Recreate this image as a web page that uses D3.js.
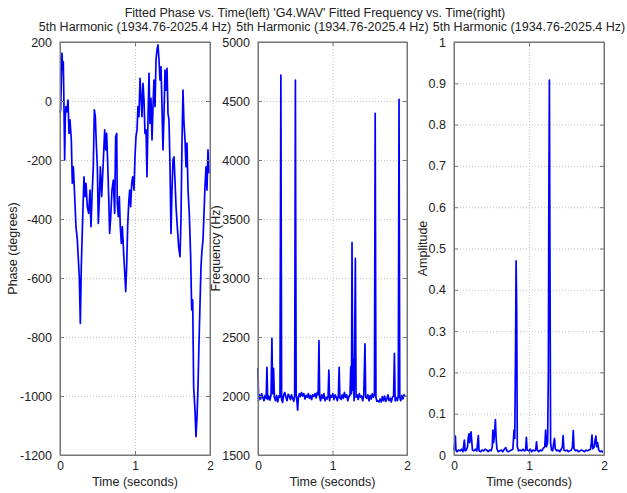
<!DOCTYPE html>
<html>
<head>
<meta charset="utf-8">
<script src="https://cdn.jsdelivr.net/npm/d3@7"></script>
<style>
  body { margin: 0; background: #fff; }
  svg { display: block; }
  text { font-family: "Liberation Sans", Arial, sans-serif; fill: #222; }
  .grid line { stroke: #c4c4c4; stroke-dasharray: 1,2; }
  .grid path { display: none; }
  .axis path { stroke: #777; }
  .axis line { stroke: #777; }
  .trace { fill: none; stroke: #0000ff; stroke-width: 1.7; stroke-linejoin: round; }
</style>
</head>
<body>
<script>
// phase (degrees) vs time (s)
let phaseTime = [0, .009, .018, .027, .036, .044, .053, .062, .071, .080,
  .093, .107, .120, .133, .151, .164, .178, .196, .213, .231,
  .258, .271, .284, .302, .320, .333, .347, .364, .382, .400,
  .413, .427, .444, .458, .471, .484, .498, .511, .524, .538,
  .556, .578, .596, .609, .622, .636, .649, .662, .676, .693,
  .711, .729, .742, .756, .764, .778, .791, .804, .818, .831,
  .849, .867, .876, .889, .902, .916, .929, .942, .956, .969,
  .987, 1.000, 1.013, 1.027, 1.040, 1.053, 1.067, 1.080, 1.093, 1.107,
  1.120, 1.133, 1.147, 1.160, 1.173, 1.187, 1.200, 1.213, 1.227, 1.240,
  1.253, 1.267, 1.280, 1.293, 1.307, 1.320, 1.333, 1.347, 1.360, 1.373,
  1.387, 1.400, 1.413, 1.427, 1.440, 1.453, 1.467, 1.480, 1.493, 1.507,
  1.520, 1.533, 1.547, 1.564, 1.582, 1.600, 1.613, 1.627, 1.640, 1.653,
  1.667, 1.680, 1.693, 1.707, 1.724, 1.742, 1.756, 1.769, 1.782, 1.800,
  1.813, 1.827, 1.840, 1.853, 1.867, 1.880, 1.893, 1.907, 1.920, 1.933,
  1.947, 1.960, 1.973, 1.987];
let phaseValue = [-40, -30, 71, 162, 105, 133, -19, -200, -53, -19,
  -36, 3, -110, -64, -132, -279, -223, -324, -426, -471,
  -600, -754, -560, -400, -257, -324, -279, -358, -381, -302,
  -426, -324, -223, -30, -53, -143, -223, -415, -336, -223,
  -324, -200, -98, -166, -110, -211, -324, -449, -392, -302,
  -268, -381, -121, -110, -347, -392, -324, -426, -483, -426,
  -516, -600, -646, -560, -426, -347, -302, -358, -279, -257,
  -302, -189, -121, -98, -19, -53, 77, 15, -53, 60,
  3, -110, -98, -257, -64, 94, -76, 9, -132, -19,
  71, -19, 139, 173, 190, 139, 71, 116, -19, -166,
  -42, 105, 37, 111, -42, -64, -223, -449, -302, -200,
  -189, -268, -358, -426, -494, -528, -404, -132, 37, -76,
  -132, -223, -143, -302, -381, -528, -708, -674, -969, -1048,
  -1138, -1070, -969, -822, -686, -561, -505, -471, -381, -291,
  -223, -302, -166, -245];

// frequency (Hz) vs time (s)
let freqTime = [0, .008, .020, .035, .050, .065, .080, .095, .110, .120,
  .130, .145, .160, .175, .187, .197, .209, .220, .235, .250,
  .265, .280, .295, .307, .317, .330, .345, .360, .375, .390,
  .405, .420, .435, .450, .465, .480, .492, .502, .512, .522,
  .532, .542, .555, .570, .585, .600, .615, .630, .645, .660,
  .675, .690, .705, .720, .735, .750, .765, .780, .795, .808,
  .818, .828, .840, .855, .870, .885, .900, .915, .930, .941,
  .951, .961, .975, .990, 1.005, 1.020, 1.035, 1.050, 1.065, 1.079,
  1.089, 1.099, 1.115, 1.130, 1.145, 1.160, 1.175, 1.190, 1.205, 1.220,
  1.235, 1.245, 1.255, 1.262, 1.272, 1.280, 1.290, 1.298, 1.307, 1.316,
  1.330, 1.345, 1.360, 1.375, 1.390, 1.405, 1.420, 1.436, 1.446, 1.460,
  1.475, 1.490, 1.505, 1.520, 1.535, 1.550, 1.563, 1.573, 1.583, 1.595,
  1.610, 1.625, 1.640, 1.655, 1.670, 1.685, 1.700, 1.715, 1.730, 1.745,
  1.760, 1.775, 1.790, 1.805, 1.820, 1.831, 1.841, 1.855, 1.870, 1.883,
  1.893, 1.903, 1.915, 1.930, 1.945, 1.960, 1.975];
let freqValue = [2240, 1960, 2010, 1975, 2020, 1990, 1960, 2005, 1980, 2243,
  1970, 2000, 1965, 2010, 2489, 2020, 2235, 1990, 1960, 2005,
  1950, 2000, 1990, 4720, 1970, 1945, 2010, 2030, 1990, 1960,
  2015, 2000, 1970, 2010, 1980, 1955, 2000, 4678, 2010, 1960,
  1880, 1990, 2020, 1995, 2030, 2000, 2020, 1975, 2005, 1990,
  2020, 1980, 2005, 1970, 2010, 1995, 2020, 1985, 2030, 2010,
  2469, 1990, 1960, 2010, 1980, 2020, 1960, 1990, 1975, 2000,
  2220, 1960, 2005, 1990, 2020, 1970, 2010, 1990, 1960, 2005,
  2243, 1985, 1970, 2010, 1980, 2030, 1990, 2010, 1960, 1995,
  2005, 2250, 2020, 3300, 2050, 2310, 1960, 2500, 3167, 1990,
  2010, 1970, 2020, 1990, 2000, 1960, 2010, 2441, 1990, 1980,
  2010, 1960, 2005, 1975, 2020, 1990, 2010, 4396, 1990, 1955,
  1960, 1950, 1975, 1950, 1995, 1960, 2000, 1955, 1975, 2010,
  1960, 1980, 1950, 1990, 2000, 2361, 1960, 1985, 1960, 2000,
  4514, 1990, 1960, 2005, 1975, 2010, 2000];

// amplitude vs time (s)
let ampTime = [0, .010, .018, .026, .040, .060, .080, .100, .120, .138,
  .148, .165, .180, .190, .200, .210, .218, .227, .236, .246,
  .265, .285, .305, .324, .334, .355, .375, .395, .415, .435,
  .455, .475, .495, .510, .518, .528, .540, .552, .562, .572,
  .590, .610, .630, .650, .670, .690, .705, .725, .745, .765,
  .785, .800, .810, .820, .828, .836, .844, .860, .880, .900,
  .920, .940, .955, .965, .975, .995, 1.015, 1.035, 1.055, 1.075,
  1.090, 1.100, 1.110, 1.130, 1.150, 1.170, 1.190, 1.210, 1.222, 1.232,
  1.248, 1.258, 1.266, 1.272, 1.280, 1.288, 1.300, 1.315, 1.330, 1.340,
  1.350, 1.370, 1.390, 1.410, 1.430, 1.445, 1.455, 1.465, 1.485, 1.505,
  1.525, 1.545, 1.565, 1.580, 1.590, 1.600, 1.620, 1.640, 1.660, 1.680,
  1.700, 1.720, 1.740, 1.760, 1.780, 1.800, 1.820, 1.832, 1.840, 1.850,
  1.870, 1.880, 1.892, 1.902, 1.915, 1.930, 1.950, 1.970, 1.985];
let ampValue = [.012, .030, .046, .012, .008, .012, .010, .014, .008, .036,
  .010, .012, .020, .042, .051, .030, .045, .056, .035, .012,
  .010, .014, .010, .047, .010, .008, .012, .010, .014, .012,
  .008, .012, .010, .020, .060, .030, .050, .086, .040, .015,
  .008, .010, .012, .008, .014, .018, .010, .008, .010, .012,
  .014, .060, .040, .240, .470, .350, .020, .010, .012, .010,
  .014, .010, .012, .043, .012, .010, .014, .008, .012, .010,
  .012, .032, .012, .008, .012, .010, .016, .020, .060, .020,
  .030, .200, .680, .908, .450, .030, .012, .010, .030, .040,
  .015, .010, .012, .008, .014, .020, .047, .012, .010, .012,
  .008, .010, .012, .020, .059, .015, .010, .012, .008, .010,
  .012, .010, .008, .012, .010, .012, .014, .030, .048, .015,
  .020, .035, .046, .020, .030, .012, .008, .010, .006];

let timeTicks = [0, 1, 2];
let phaseTicks = [-1200, -1000, -800, -600, -400, -200, 0, 200];
let freqTicks = [1500, 2000, 2500, 3000, 3500, 4000, 4500, 5000];
let ampTicks = [0, .1, .2, .3, .4, .5, .6, .7, .8, .9, 1];

let panelTitle = "5th Harmonic (1934.76-2025.4 Hz)";
let topTitle = "Fitted Phase vs. Time(left) 'G4.WAV' Fitted Frequency vs. Time(right)";

let W = 627, H = 493, yTop = 42, yBottom = 455;

let svg = d3.select("body").append("svg")
    .attr("width", W)
    .attr("height", H);

let panels = [
    {left: 60, right: 210, t: phaseTime, v: phaseValue, ticks: phaseTicks, ylabel: "Phase (degrees)", ylx: 17, fmt: d => String(d)},
    {left: 258, right: 407, t: freqTime, v: freqValue, ticks: freqTicks, ylabel: "Frequency (Hz)", ylx: 220, fmt: d => String(d)},
    {left: 454, right: 604, t: ampTime, v: ampValue, ticks: ampTicks, ylabel: "Amplitude", ylx: 427, fmt: d3.format("~g")}
];

panels.forEach(p => {
    let x = d3.scaleLinear().domain([0, 2]).range([p.left, p.right]);
    let y = d3.scaleLinear().domain(d3.extent(p.ticks)).range([yBottom, yTop]);
    let w = p.right - p.left, h = yBottom - yTop;

    // grid
    svg.append("g").attr("class", "grid")
        .attr("transform", "translate(0," + yBottom + ")")
        .call(d3.axisBottom(x).tickValues([1]).tickSize(-h).tickFormat(""));
    svg.append("g").attr("class", "grid")
        .attr("transform", "translate(" + p.left + ",0)")
        .call(d3.axisLeft(y).tickValues(p.ticks.slice(1, -1)).tickSize(-w).tickFormat(""));

    // trace
    svg.append("path")
        .datum(d3.zip(p.t, p.v))
        .attr("class", "trace")
        .attr("d", d3.line().x(d => x(d[0])).y(d => y(d[1])));

    // axes with inward ticks on all four sides
    let fs = "12.5px";
    let ax = svg.append("g").attr("class", "axis")
        .attr("transform", "translate(0," + yBottom + ")")
        .call(d3.axisBottom(x).tickValues(timeTicks).tickSize(-4).tickSizeOuter(0).tickPadding(6).tickFormat(d => String(d)));
    ax.selectAll("text").style("font-size", "12px");
    svg.append("g").attr("class", "axis")
        .attr("transform", "translate(0," + yTop + ")")
        .call(d3.axisTop(x).tickValues(timeTicks).tickSize(-4).tickSizeOuter(0).tickFormat(""));
    let ay = svg.append("g").attr("class", "axis")
        .attr("transform", "translate(" + p.left + ",0)")
        .call(d3.axisLeft(y).tickValues(p.ticks).tickSize(-4).tickSizeOuter(0).tickPadding(8).tickFormat(p.fmt));
    ay.selectAll("text").style("font-size", fs);
    svg.append("g").attr("class", "axis")
        .attr("transform", "translate(" + p.right + ",0)")
        .call(d3.axisRight(y).tickValues(p.ticks).tickSize(-4).tickSizeOuter(0).tickFormat(""));
    svg.append("rect")
        .attr("x", p.left).attr("y", yTop)
        .attr("width", w).attr("height", h)
        .attr("fill", "none").attr("stroke", "#777");

    // labels
    svg.append("text")
        .attr("x", (p.left + p.right) / 2).attr("y", 485.5)
        .attr("text-anchor", "middle")
        .style("font-size", fs)
        .text("Time (seconds)");
    svg.append("text")
        .attr("transform", "translate(" + p.ylx + "," + (yTop + yBottom) / 2 + ") rotate(-90)")
        .attr("text-anchor", "middle")
        .style("font-size", fs)
        .text(p.ylabel);
    svg.append("text")
        .attr("x", (p.left + p.right) / 2).attr("y", 30.5)
        .attr("text-anchor", "middle")
        .style("font-size", fs)
        .text(panelTitle);
});

svg.append("text")
    .attr("x", 315).attr("y", 16.5)
    .attr("text-anchor", "middle")
    .style("font-size", "12.5px")
    .text(topTitle);
</script>
</body>
</html>
